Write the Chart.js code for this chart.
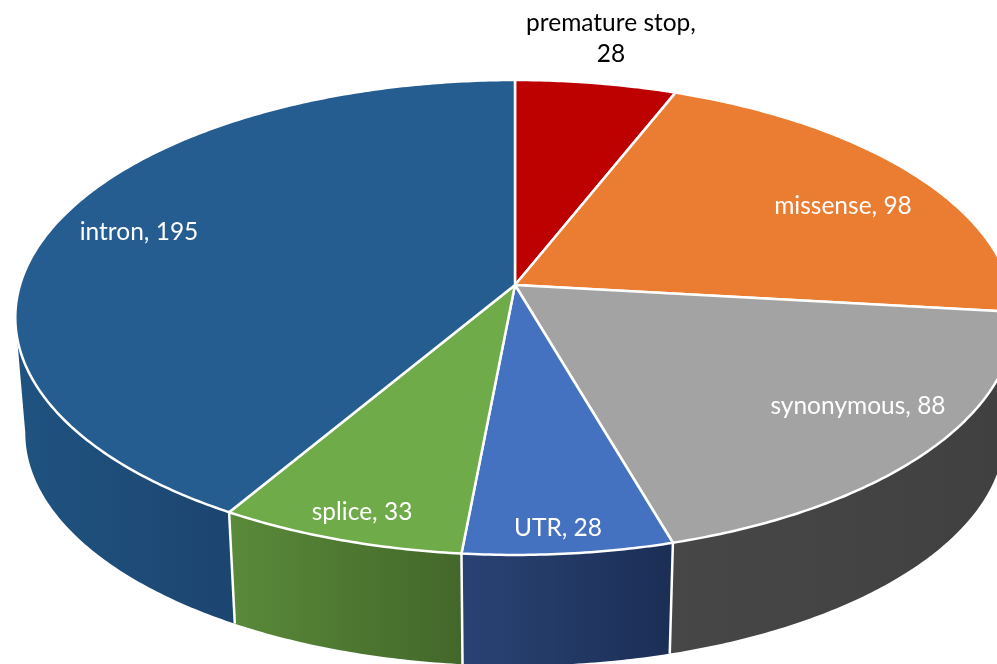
<!DOCTYPE html>
<html>
<head>
<meta charset="utf-8">
<title>Variant types</title>
<script src="https://cdn.jsdelivr.net/npm/chart.js@4"></script>
<style>
  html, body { margin: 0; padding: 0; background: #fff; overflow: hidden; }
  canvas { display: block; }
</style>
</head>
<body>
<canvas id="pie" width="997" height="664"></canvas>
<script>
const categories = ["premature stop", "missense", "synonymous", "UTR", "splice", "intron"];
const counts = [28, 98, 88, 28, 33, 195];
const topColors = ["#bd0000", "#ea7d32", "#a3a3a3", "#4471c0", "#6fab49", "#265d90"];
const wallLeftColors = ["#8c0000", "#ad5c25", "#474747", "#2a4374", "#5a8a3a", "#205380"];
const wallRightColors = ["#6e0000", "#8a4a1d", "#404040", "#1b2e55", "#43672a", "#1c4570"];
// centre of each label in page pixels, one line per array entry
const labelAnchors = [[611, 23, 54], [843, 206], [858, 406], [558, 528], [362, 512], [139, 232]];

// Camera of the tilted pie: apex on the page, rim sizes, perspective strength
const view = { x: 515, y: 285, a: 495, b: 233, k: 0.1368, drop: 116, shrink: 0.98 };

function project(theta, lower) {
  const u = Math.sin(theta);
  const v = -Math.cos(theta);
  const w = 1 - view.k * v;
  const s = lower ? view.shrink : 1;
  return {
    x: view.x + (s * view.a * u) / w,
    y: view.y + (s * view.b * v) / w + (lower ? view.drop : 0),
  };
}

function rimPoints(from, to, lower) {
  const steps = Math.max(2, Math.ceil(Math.abs(to - from) / 0.01));
  const pts = [];
  for (let i = 0; i <= steps; i++) {
    pts.push(project(from + ((to - from) * i) / steps, lower));
  }
  return pts;
}

const tiltedPie = {
  id: "tilted-pie",
  beforeDatasetsDraw(chart) {
    const { ctx } = chart;
    const arcs = chart.getDatasetMeta(0).data;
    // visible part of the outer wall, between the two silhouette tangents
    const wallFrom = Math.acos(-view.k);
    const wallTo = 2 * Math.PI - wallFrom;

    ctx.save();
    arcs.forEach((arc, i) => {
      const a = Math.max(arc.startAngle + Math.PI / 2, wallFrom);
      const b = Math.min(arc.endAngle + Math.PI / 2, wallTo);
      if (b <= a) return;
      const outline = rimPoints(a, b, false).concat(rimPoints(b, a, true));
      const xs = outline.map((p) => p.x);
      const grad = ctx.createLinearGradient(Math.min(...xs), 0, Math.max(...xs), 0);
      grad.addColorStop(0, wallLeftColors[i]);
      grad.addColorStop(1, wallRightColors[i]);
      ctx.beginPath();
      outline.forEach((p, n) => (n ? ctx.lineTo(p.x, p.y) : ctx.moveTo(p.x, p.y)));
      ctx.closePath();
      ctx.fillStyle = grad;
      ctx.fill();
    });

    // white seams down the wall
    ctx.strokeStyle = "#fff";
    ctx.lineWidth = 2.5;
    arcs.forEach((arc) => {
      const t = arc.endAngle + Math.PI / 2;
      if (t <= wallFrom || t >= wallTo) return;
      const p = project(t, false);
      const q = project(t, true);
      ctx.beginPath();
      ctx.moveTo(p.x, p.y);
      ctx.lineTo(q.x, q.y);
      ctx.stroke();
    });

    // top face
    ctx.lineJoin = "round";
    arcs.forEach((arc, i) => {
      const rim = rimPoints(arc.startAngle + Math.PI / 2, arc.endAngle + Math.PI / 2, false);
      ctx.beginPath();
      ctx.moveTo(view.x, view.y);
      rim.forEach((p) => ctx.lineTo(p.x, p.y));
      ctx.closePath();
      ctx.fillStyle = topColors[i];
      ctx.fill();
      ctx.stroke();
    });

    // data labels
    ctx.font = '24.5px Lato, "Open Sans", sans-serif';
    ctx.textAlign = "center";
    ctx.textBaseline = "middle";
    categories.forEach((name, i) => {
      const [x, y, y2] = labelAnchors[i];
      if (y2) {
        ctx.fillStyle = "#000";
        ctx.fillText(`${name},`, x, y);
        ctx.fillText(`${counts[i]}`, x, y2);
      } else {
        ctx.fillStyle = "#fff";
        ctx.fillText(`${name}, ${counts[i]}`, x, y);
      }
    });
    ctx.restore();
    return false;
  },
};

new Chart(document.getElementById("pie"), {
  type: "pie",
  data: {
    labels: categories,
    datasets: [{ data: counts, backgroundColor: topColors, borderColor: "#fff", borderWidth: 2 }],
  },
  options: {
    responsive: false,
    animation: false,
    layout: { padding: 0 },
    plugins: {
      legend: { display: false },
      tooltip: { enabled: false },
    },
  },
  plugins: [tiltedPie],
});
</script>
</body>
</html>
